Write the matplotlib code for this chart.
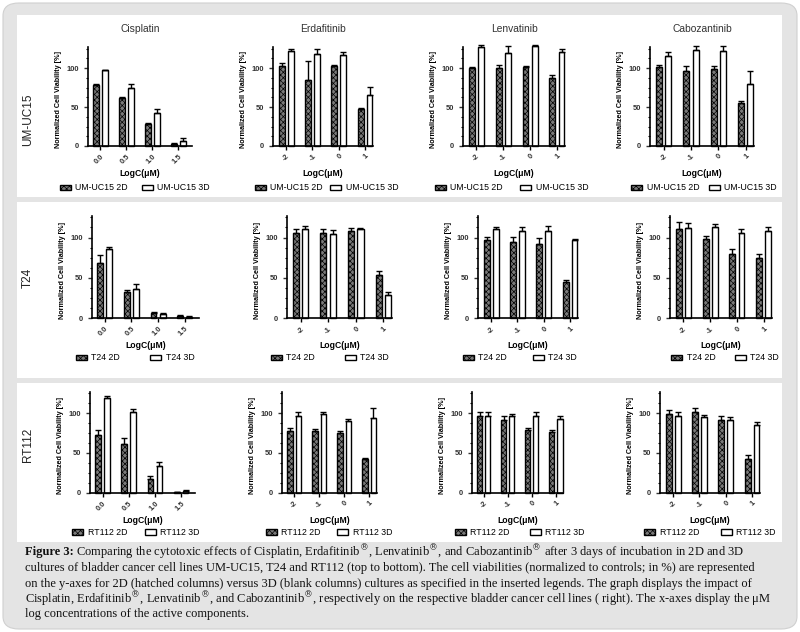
import numpy as np
import matplotlib.pyplot as plt
from matplotlib.patches import FancyBboxPatch, Rectangle, Patch
from matplotlib.ticker import MultipleLocator

plt.rcParams['font.family'] = ['Liberation Sans', 'DejaVu Sans']
plt.rcParams['hatch.linewidth'] = 0.5

W, H = 800, 632

drugs = ['Cisplatin', 'Erdafitinib', 'Lenvatinib', 'Cabozantinib']
cell_lines = ['UM-UC15', 'T24', 'RT112']
cis_ticks = ['0.0', '0.5', '1.0', '1.5']
log_ticks = ['-2', '-1', '0', '1']

# viability [%] per drug (Cisplatin, Erdafitinib, Lenvatinib, Cabozantinib)
umuc15_2d = [[78, 62, 28, 3], [102, 85, 102, 47], [100, 100, 101, 87], [101, 96, 99, 55]]
umuc15_2d_err = [[2, 1, 2, 1], [5, 24, 2, 2], [1, 4, 2, 4], [3, 6, 4, 3]]
umuc15_3d = [[97, 74, 42, 7], [122, 118, 117, 66], [127, 119, 128, 121], [116, 123, 122, 79]]
umuc15_3d_err = [[1, 5, 6, 3], [3, 6, 4, 10], [3, 9, 2, 3], [5, 5, 6, 17]]

t24_2d = [[69, 33, 6, 3], [106, 105, 108, 53], [97, 95, 92, 45], [111, 98, 79, 75]]
t24_2d_err = [[9, 2, 2, 1], [4, 5, 4, 5], [4, 6, 8, 2], [8, 4, 7, 5]]
t24_3d = [[86, 36, 5, 2], [111, 104, 111, 29], [110, 108, 108, 97], [112, 113, 105, 108]]
t24_3d_err = [[2, 6, 1, 1], [3, 5, 1, 3], [3, 5, 6, 1], [6, 4, 5, 5]]

rt112_2d = [[73, 61, 17, 0.5], [78, 77, 75, 42], [97, 92, 79, 76], [99, 101, 91, 43]]
rt112_2d_err = [[6, 8, 4, 0], [3, 3, 2, 1.5], [5, 4, 2, 3], [5, 6, 5, 4]]
rt112_3d = [[119, 102, 33, 2], [97, 99, 90, 94], [97, 96, 96, 93], [97, 95, 92, 85]]
rt112_3d_err = [[3, 3, 5, 1], [4, 3, 3, 12], [5, 3, 6, 3], [5, 3, 3, 4]]

vals_2d = [umuc15_2d, t24_2d, rt112_2d]
errs_2d = [umuc15_2d_err, t24_2d_err, rt112_2d_err]
vals_3d = [umuc15_3d, t24_3d, rt112_3d]
errs_3d = [umuc15_3d_err, t24_3d_err, rt112_3d_err]

R = r'$^{\circledR}$'
caption_lines = [
    "Comparing the cytotoxic effects of Cisplatin, Erdafitinib" + R + ", Lenvatinib" + R + ", and Cabozantinib" + R + " after 3 days of incubation in 2D and 3D",
    "cultures of bladder cancer cell lines UM-UC15, T24 and RT112 (top to bottom). The cell viabilities (normalized to controls; in %) are represented",
    "on the y-axes for 2D (hatched columns) versus 3D (blank columns) cultures as specified in the inserted legends. The graph displays the impact of",
    "Cisplatin, Erdafitinib" + R + ", Lenvatinib" + R + ", and Cabozantinib" + R + ", respectively on the respective bladder cancer cell lines ( right). The x-axes display the \u03bcM",
    "log concentrations of the active components.",
]

# layout in pixels
row_y0 = [146, 318.3, 492.7]      # y of value 0
row_ytop = [47, 215.7, 391.7]     # y of axis top
col_lr = [[(88, 192), (273, 373), (463, 565), (650, 754)],
          [(91.7, 199), (286.7, 391.7), (478, 578), (670, 771.7)],
          [(90, 195), (281.7, 376.7), (471.7, 563), (660, 760)]]
row_label_y = [120, 278, 445]
leg_y = [188, 358, 532.7]
leg_x = [[135, 326.5, 511.5, 704], [135, 330, 520, 725], [136, 329, 520, 710]]
leg_space = [[1.6, 0.9, 2.0, 1.1], [3.5, 3.4, 3.0, 2.2], [2.0, 1.9, 2.3, 2.5]]

fig = plt.figure(figsize=(8, 6.32), dpi=100)

bg = FancyBboxPatch((3 / W, 3 / H), 794 / W, 626 / H, boxstyle='round,pad=0,rounding_size=0.02',
                    transform=fig.transFigure, facecolor='#e4e4e4', edgecolor='#d0d0d0', lw=0.8, zorder=-10)
fig.add_artist(bg)
for top, bot in [(15, 197), (202, 378), (383, 542)]:
    fig.add_artist(Rectangle((17 / W, 1 - bot / H), 765 / W, (bot - top) / H,
                             transform=fig.transFigure, facecolor='white', edgecolor='none', zorder=-9))

x = np.arange(4)
bw = 0.22
off = 0.17
hatch_face = '#7a7a7a'
hatch = 'xxxxxx'

for r in range(3):
    for c in range(4):
        l, rr = col_lr[r][c]
        y0, yt = row_y0[r], row_ytop[r]
        ax = fig.add_axes([l / W, 1 - y0 / H, (rr - l) / W, (y0 - yt) / H])
        ax.set_facecolor('none')
        v2 = np.array(vals_2d[r][c])
        e2 = np.array(errs_2d[r][c])
        v3 = np.array(vals_3d[r][c])
        e3 = np.array(errs_3d[r][c])
        ax.bar(x - off, v2, bw, facecolor=hatch_face, edgecolor='black', hatch=hatch, lw=1.0, clip_on=False)
        ax.bar(x + off, v3, bw, facecolor='white', edgecolor='black', lw=1.0, clip_on=False)
        for xs, v, e in [(x - off, v2, e2), (x + off, v3, e3)]:
            eb = ax.errorbar(xs, v, yerr=[np.zeros(4), e], fmt='none', ecolor='black',
                             elinewidth=1, capsize=2, capthick=1)
            for art in eb.lines[1] + eb.lines[2]:
                art.set_clip_on(False)
        ax.set_ylim(0, 127)
        if c == 0:
            ax.set_xlim(-0.48, 3.53)
            labels = cis_ticks
        else:
            ax.set_xlim(-0.5, 3.3)
            labels = log_ticks
        ax.set_xticks(x)
        ax.set_xticklabels(labels, rotation=45, ha='right', va='top', rotation_mode='anchor',
                           fontsize=5.4, fontweight='bold', color='#333333')
        ax.set_yticks([0, 50, 100])
        ax.yaxis.set_minor_locator(MultipleLocator(12.5))
        ax.tick_params(axis='y', labelsize=5.4, colors='#333333', length=3, width=1)
        ax.tick_params(axis='y', which='minor', length=1.5, width=0.8)
        ax.tick_params(axis='x', length=3, width=1, pad=2)
        for lab in ax.get_yticklabels():
            lab.set_fontweight('bold')
        for s in ['top', 'right']:
            ax.spines[s].set_visible(False)
        for s in ['left', 'bottom']:
            ax.spines[s].set_linewidth(1.2)
        hpx = y0 - yt
        wpx = rr - l
        ax.set_ylabel('Normalized Cell Viability [%]', fontsize=5.2, fontweight='bold')
        ax.yaxis.set_label_coords(-26 / wpx, 0.47)
        ax.set_xlabel('LogC(\u03bcM)', fontsize=6.2, fontweight='bold')
        ax.xaxis.set_label_coords(0.5, -23 / hpx)
        if r == 0:
            ax.set_title(drugs[c], fontsize=7.4, color='#333333', pad=11)
        handles = [Patch(facecolor=hatch_face, edgecolor='black', hatch=hatch, lw=1),
                   Patch(facecolor='white', edgecolor='black', lw=1)]
        ax.legend(handles, [cell_lines[r] + ' 2D', cell_lines[r] + ' 3D'], loc='center',
                  bbox_to_anchor=(leg_x[r][c] / W, 1 - leg_y[r] / H), bbox_transform=fig.transFigure,
                  ncol=2, frameon=False, fontsize=6.3, handlelength=1.25, handleheight=0.6,
                  handletextpad=0.5, columnspacing=leg_space[r][c], borderpad=0)
    fig.text(28 / W, 1 - row_label_y[r] / H, cell_lines[r], rotation=90, ha='center', va='center',
             fontsize=8.5, color='#222222')

# caption
cap_y = [552, 568, 584, 599, 614]
cap_font = ['Liberation Serif', 'DejaVu Serif']
plt.rcParams['mathtext.fontset'] = 'dejavuserif'
t0 = fig.text(25 / W, 1 - cap_y[0] / H, 'Figure 3:', fontsize=9.0, fontweight='bold',
              family=cap_font, va='center', ha='left', color='#111111')
fig.canvas.draw()
bb = t0.get_window_extent(fig.canvas.get_renderer())
fig.text((bb.x1 + 2) / W, 1 - cap_y[0] / H, caption_lines[0], fontsize=9.0, family=cap_font,
         va='center', ha='left', color='#111111')
for i in range(1, 5):
    fig.text(25 / W, 1 - cap_y[i] / H, caption_lines[i], fontsize=9.0, family=cap_font,
             va='center', ha='left', color='#111111')

fig.savefig('out.png', dpi=100)
